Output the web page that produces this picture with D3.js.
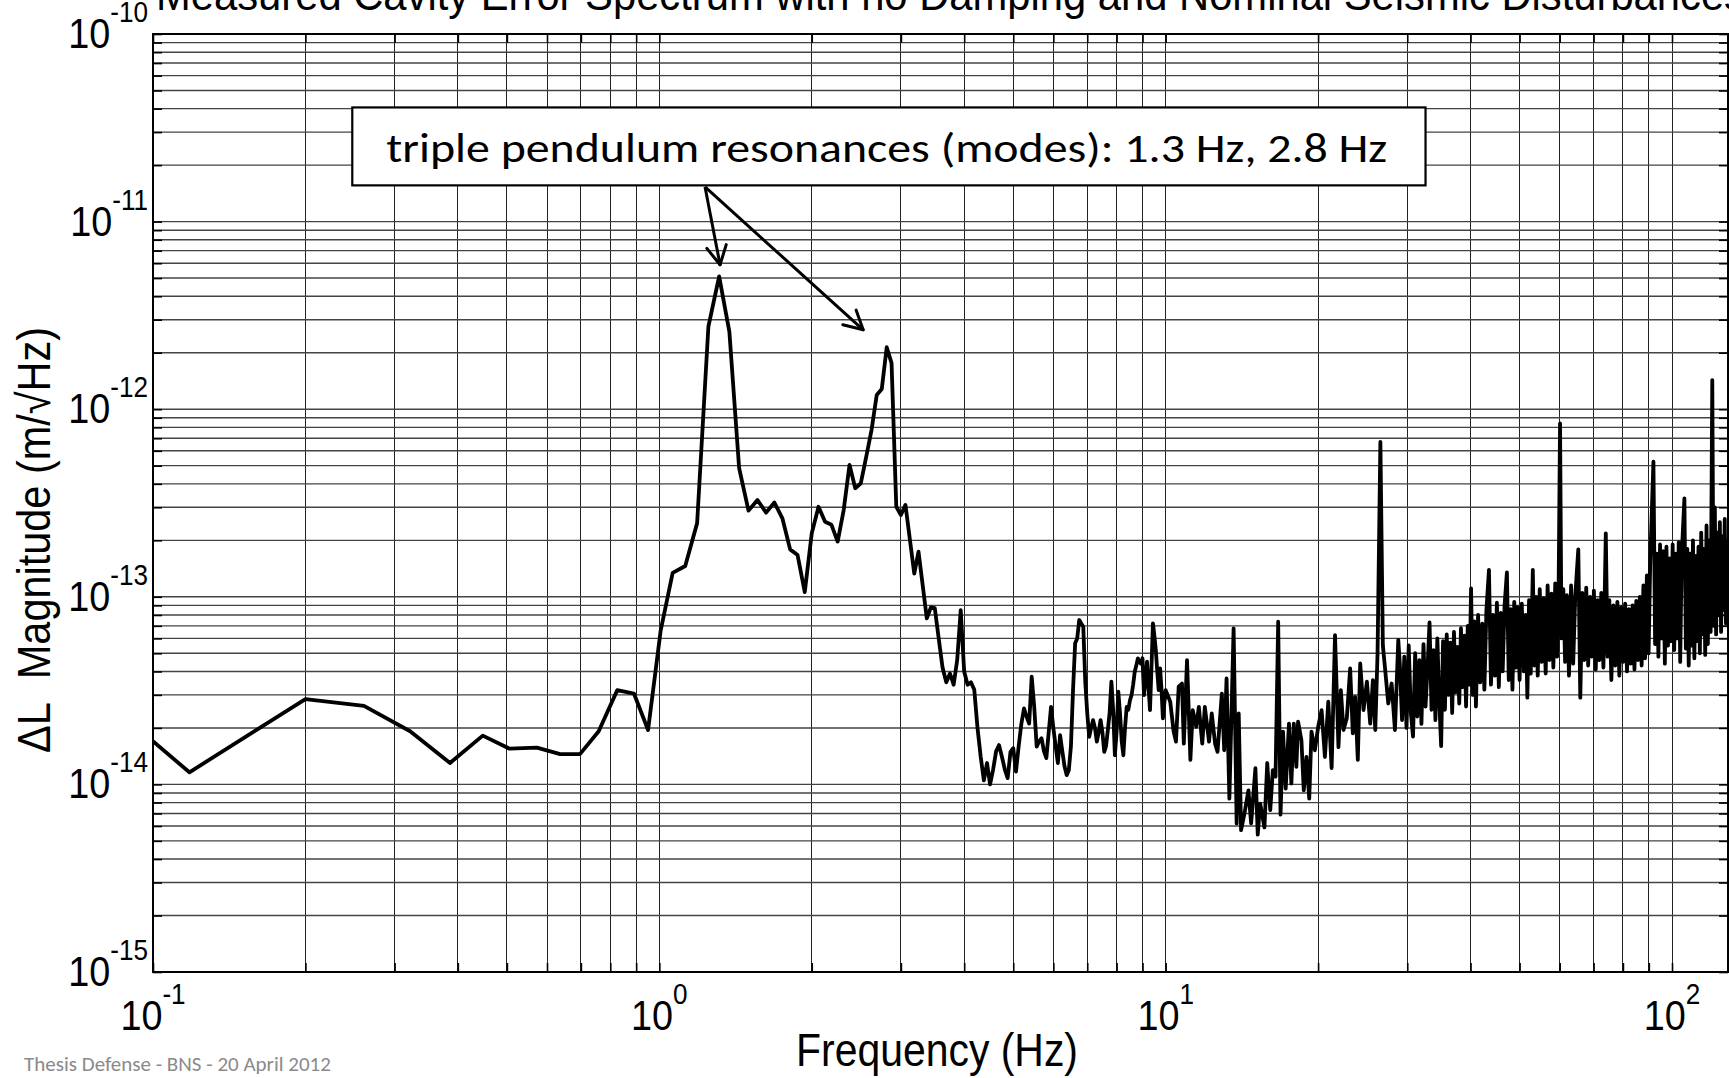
<!DOCTYPE html>
<html>
<head>
<meta charset="utf-8">
<script src="https://cdn.jsdelivr.net/npm/d3@7"></script>
<style>
  html, body { margin: 0; padding: 0; background: #fff; }
  svg { display: block; }
</style>
</head>
<body>
<div id="chart"></div>
<script>
// magnitudes are in units of 1e-14 m/sqrt(Hz)
var lowFreq = [0.06,0.118,0.2,0.261,0.322,0.386,0.448,0.506,0.573,0.637,0.697,0.759,0.826,0.891,0.95,1.006,
  1.0625,1.125,1.1875,1.25,1.3125,1.375,1.4375,1.5,1.5625,1.625,1.6875,1.75,1.8125,1.875,1.9375,2.0,
  2.0625,2.125,2.1875,2.25,2.3125,2.375,2.4375,2.5,2.5625,2.625,2.6875,2.75,2.8125,2.875,2.9375,3.0,
  3.0625,3.1875,3.25,3.375,3.4375,3.5,3.5625,3.625,3.6875,3.75,3.8125,3.875,3.9375,4.0,
  4.0625,4.125,4.1875,4.25,4.3125,4.375,4.4375,4.5,4.5625,4.625,4.6875,4.75,4.8125,4.875,4.9375,5.0,
  5.0625,5.125,5.1875,5.25,5.3125,5.375,5.4375,5.5,5.5625,5.625,5.6875,5.75,5.8125,5.875,5.9375,6.0,
  6.0625,6.125,6.1875,6.25,6.3125,6.375,6.4375,6.5,6.5625,6.625,6.6875,6.75,6.8125,6.875,6.9375,7.0,
  7.0625,7.125,7.1875,7.25,7.3125,7.375,7.4375,7.5,7.5625,7.625,7.6875,7.75,7.8125,7.875,7.9375,8.0,
  8.0625,8.125,8.1875,8.25,8.3125,8.375,8.4375,8.5,8.5625,8.625,8.6875,8.75,8.8125,8.875,8.9375,9.0,
  9.0625,9.125,9.1875,9.25,9.3125,9.375,9.4375,9.5,9.5625,9.625,9.6875,9.75,9.8125,9.875,9.9375,10.0];
var lowMag = [5.5,1.16,2.85,2.62,1.92,1.30,1.82,1.55,1.57,1.45,1.45,1.92,3.18,3.05,1.95,6.6,
  13.4,14.6,24.7,276,510,259,48.5,28.8,32.8,28.1,31.8,26.2,17.9,16.7,10.6,21.8,
  30.2,25.1,24.2,19.7,29.0,50.5,37.9,40.3,55.9,77.6,119,128,214,176,30.2,27.3,
  30.9,13.3,17.4,7.67,8.79,8.7,6.0,4.2,3.5,3.9,3.4,4.6,8.5,4.0,
  3.4,3.5,3.2,2.0,1.4,1.05,1.3,1.0,1.2,1.5,1.62,1.4,1.2,1.08,1.49,1.56,
  1.17,1.6,2.1,2.54,2.3,2.11,3.75,2.6,1.59,1.7,1.76,1.5,1.38,1.9,2.59,2.0,
  1.6,1.3,1.83,1.5,1.25,1.12,1.19,1.6,3.2,5.65,6.0,7.52,7.2,6.93,3.53,2.4,
  1.79,2.0,2.2,2.0,1.69,1.9,2.2,1.9,1.49,1.6,1.95,2.4,3.53,2.5,1.43,1.9,
  3.12,2.4,1.7,1.43,2.0,2.59,2.5,2.8,2.99,3.4,3.99,4.3,4.7,4.5,4.4,4.7,
  2.99,3.6,4.51,3.3,2.49,4.2,7.22,6.2,5.2,4.0,3.18,4.15,3.2,2.25,2.7,3.18];

var midFreq = [10.21,10.37,10.48,10.61,10.77,10.86,11.02,11.19,11.31,11.49,11.63,11.81,11.95,12.18,12.33,12.52,12.66,12.91,13.05,13.19,
  13.36,13.62,13.81,13.94,14.09,14.31,14.57,14.75,15.04,15.2,15.37,15.67,15.87,16.09,16.28,16.48,16.68,16.86,17.05,17.26,
  17.52,17.71,17.91,18.12,18.26,18.54,18.74,18.97,19.21,19.41,19.71,20.01,20.32,20.63,20.95,21.27,21.6,21.94,22.18,22.45,
  22.79,23.14,23.42,23.67,23.96,24.22,24.59,24.97,25.35,25.66,25.94,26.21,26.55,26.85,27.1,27.52,27.94,28.37,28.8];
var midMag = [2.76,1.91,1.69,3.32,3.45,1.65,4.6,1.35,2.49,2.03,2.59,1.65,2.59,1.69,2.39,1.65,1.49,3.05,1.52,3.67,
  0.84,6.79,0.62,2.39,0.57,0.7,0.93,0.62,1.22,0.54,0.79,0.59,1.3,0.73,1.19,1.1,7.37,0.69,1.91,0.95,
  2.11,1.01,2.11,1.24,2.16,1.72,0.93,1.4,0.84,1.91,1.52,2.03,2.49,1.4,2.76,1.22,6.25,1.58,3.18,1.95,
  2.25,4.15,1.87,2.93,1.35,4.41,2.49,3.53,2.11,3.6,1.95,5.0,67,5.5,4.23,2.7,3.45,1.95,5.9];

var highFreq = [29.0,29.3,29.6,29.9,30.2,30.5,30.8,31.1,31.4,31.7,32.0,32.3,32.6,32.9,33.2,33.5,33.8,34.1,34.4,34.7,
  35.0,35.3,35.6,35.9,36.2,36.5,36.8,37.1,37.4,37.7,38.0,38.3,38.6,38.9,39.2,39.5,39.8,40.1,40.4,40.7,
  41.0,41.4,41.8,42.2,42.6,43.0,43.5,43.9,44.3,44.7,45.1,45.5,45.9,46.3,46.7,47.2,47.6,48.0,48.4,48.8,
  49.2,49.6,50.0,50.5,51.0,51.4,51.8,52.2,52.6,53.1,53.5,53.9,54.3,54.8,55.3,55.8,56.3,56.8,57.3,57.8,
  58.3,58.8,59.3,59.7,60.1,60.5,61.0,61.5,62.0,62.6,63.2,63.8,64.4,65.3,65.9,66.5,67.1,67.7,68.3,68.9,
  69.5,70.1,70.7,71.3,71.9,72.5,73.2,74.0,74.6,75.2,75.9,76.6,77.3,78.0,78.7,79.4,80.1,80.8,81.5,82.2,
  82.9,83.6,84.3,85.0,85.7,86.4,87.1,87.8,88.5,89.2,89.9,90.6,91.9,92.6,93.3,94.0,94.7,95.4,96.1,96.8,
  97.5,98.2,98.9,99.6,100.3,101.0,101.7,102.4,103.1,103.8,104.5,105.8,106.5,107.2,107.9,108.6,109.3,110.0,110.7,111.4,
  112.1,112.8,113.5,114.2,114.9,115.6,116.3,117.0,117.7,118.4,119.2,120.1,120.8,121.5,122.2,122.9,123.6,124.3,125.0,125.7,
  126.4,127.1,127.8,128.5,129.2,130.0];
var highMag = [4.4,2.2,4.8,2.0,5.5,2.4,1.8,5.0,2.3,4.6,2.1,5.6,2.6,4.2,7.3,2.5,5.2,2.2,6.0,2.8,
  1.6,5.8,2.5,6.3,3.0,5.7,2.4,6.5,3.1,5.4,2.7,6.8,3.3,6.2,2.6,7.0,3.4,11.1,3.0,7.4,
  2.6,8.0,3.5,7.2,3.2,8.5,13.9,3.4,8.0,3.8,9.3,3.3,8.2,4.0,9.0,13.5,3.6,8.6,3.2,9.4,
  4.2,8.8,3.6,9.2,4.0,8.0,2.9,9.6,3.9,13.9,4.3,10.0,3.8,11.0,4.5,9.8,3.9,11.5,4.6,10.4,
  4.2,11.8,4.8,10.5,84,6.0,11.0,4.5,10.2,3.8,11.5,4.4,10.0,17.9,2.9,10.5,4.6,11.2,4.3,10.0,
  4.8,10.8,4.1,9.6,4.6,10.5,4.2,21.8,4.8,9.6,3.6,9.0,4.3,9.4,3.8,8.8,4.5,9.2,4.0,8.6,
  4.4,9.0,4.1,9.5,4.6,10.0,4.3,11.5,4.7,13.0,5.0,16.0,52.6,5.6,17.0,4.8,19.0,6.0,17.5,4.4,
  18.5,5.5,16.0,5.8,19.0,5.2,17.0,6.0,19.5,4.5,16.5,33.5,5.3,18.0,4.3,17.0,5.5,20.0,4.7,16.5,
  5.8,18.5,5.0,22.0,6.3,18.0,4.9,24.0,5.6,20.0,6.5,143,7.0,30.0,6.3,22.0,8.0,25.0,6.5,21.0,
  8.5,26.0,7.2,20.0,9.0,18.0];

var xMajor = [0.1, 1, 10, 100];
var xMajorExp = ["-1", "0", "1", "2"];
var yMajor = [1e-15, 1e-14, 1e-13, 1e-12, 1e-11, 1e-10];
var yMajorExp = ["-15", "-14", "-13", "-12", "-11", "-10"];

var titleText = "Measured Cavity Error Spectrum with no Damping and Nominal Seismic Disturbances";
var noteText = "triple pendulum resonances (modes): 1.3 Hz, 2.8 Hz";
var footerText = "Thesis Defense - BNS - 20 April 2012";

function init() {
    var W = 1729, H = 1078;
    var left = 153, right = 1728, top = 34, bottom = 972;
    var axisFont = "'Liberation Sans', Arial, Helvetica, sans-serif";
    var slideFont = "Carlito, Calibri, Lato, sans-serif";

    var svg = d3.select("#chart").append("svg")
        .attr("width", W)
        .attr("height", H);

    var x = d3.scaleLog().domain([0.1, 129]).range([left, right]);
    var y = d3.scaleLog().domain([1e-15, 1e-10]).range([bottom, top]);

    function pairs(fs, ms) {
        var out = [];
        for (var i = 0; i < Math.min(fs.length, ms.length); i++) {
            out.push({f: fs[i], v: ms[i] * 1e-14});
        }
        return out;
    }
    var data = pairs(lowFreq, lowMag).concat(pairs(midFreq, midMag), pairs(highFreq, highMag));

    svg.append("rect").attr("x", left).attr("y", top)
        .attr("width", right - left).attr("height", bottom - top)
        .attr("fill", "#fff");

    // grid
    svg.append("g").selectAll("line").data(x.ticks()).enter().append("line")
        .attr("x1", function(d) { return x(d); }).attr("x2", function(d) { return x(d); })
        .attr("y1", top).attr("y2", bottom)
        .attr("stroke", "#222").attr("stroke-width", 1).attr("shape-rendering", "crispEdges");
    svg.append("g").selectAll("line").data(y.ticks()).enter().append("line")
        .attr("y1", function(d) { return y(d); }).attr("y2", function(d) { return y(d); })
        .attr("x1", left).attr("x2", right)
        .attr("stroke", "#444").attr("stroke-width", 1.4);

    // inward ticks on all four sides
    var tk = 9;
    var axes = [
        [d3.axisBottom(x).tickValues(x.ticks()), "translate(0," + bottom + ")"],
        [d3.axisTop(x).tickValues(x.ticks()), "translate(0," + top + ")"],
        [d3.axisLeft(y).tickValues(y.ticks()), "translate(" + left + ",0)"],
        [d3.axisRight(y).tickValues(y.ticks()), "translate(" + right + ",0)"]
    ];
    axes.forEach(function(a) {
        var g = svg.append("g").attr("transform", a[1])
            .call(a[0].tickSizeInner(-tk).tickSizeOuter(0).tickFormat(""));
        g.select(".domain").remove();
        g.selectAll("line").attr("stroke", "#000").attr("stroke-width", 1.6);
    });

    // spectrum
    svg.append("clipPath").attr("id", "plotclip").append("rect")
        .attr("x", left).attr("y", top).attr("width", right - left).attr("height", bottom - top);
    var line = d3.line()
        .x(function(d) { return x(d.f); })
        .y(function(d) { return y(d.v); });
    svg.append("path")
        .datum(data)
        .attr("clip-path", "url(#plotclip)")
        .attr("fill", "none")
        .attr("stroke", "#000")
        .attr("stroke-width", 3.8)
        .attr("stroke-linejoin", "round")
        .attr("d", line);

    // frame
    svg.append("rect").attr("x", left).attr("y", top)
        .attr("width", right - left).attr("height", bottom - top)
        .attr("fill", "none").attr("stroke", "#000").attr("stroke-width", 2);

    // 10^n labels, slightly condensed like the original export
    function powLabel(px, py, exp, anchor) {
        var t = svg.append("g")
            .attr("transform", "translate(" + px + "," + py + ") scale(0.9,1)")
            .append("text")
            .attr("text-anchor", anchor)
            .style("font-family", axisFont)
            .style("font-size", "42px")
            .attr("fill", "#000");
        t.append("tspan").text("10");
        t.append("tspan").attr("dy", -26).style("font-size", "29px").text(exp);
    }
    yMajor.forEach(function(d, i) { powLabel(left - 5, y(d) + 14, yMajorExp[i], "end"); });
    xMajor.forEach(function(d, i) { powLabel(x(d), 1030, xMajorExp[i], "middle"); });

    // title (clipped by the top of the page)
    svg.append("text")
        .attr("x", 156).attr("y", 10)
        .attr("textLength", 1589).attr("lengthAdjust", "spacingAndGlyphs")
        .style("font-family", axisFont).style("font-size", "45px")
        .text(titleText);

    // axis labels
    svg.append("text")
        .attr("x", 796).attr("y", 1066)
        .attr("textLength", 282).attr("lengthAdjust", "spacingAndGlyphs")
        .style("font-family", axisFont).style("font-size", "46px")
        .text("Frequency (Hz)");
    svg.append("text")
        .attr("transform", "translate(50,540) rotate(-90)")
        .attr("text-anchor", "middle")
        .attr("textLength", 426).attr("lengthAdjust", "spacingAndGlyphs")
        .style("font-family", axisFont).style("font-size", "46px")
        .text("\u0394L\u00a0 Magnitude (m/\u221aHz)");

    // annotation box and arrows (positions in data units)
    var boxF = [0.2475, 32.6], boxV = [4.06e-11, 1.56e-11];
    var arrowFrom = [1.231, 1.53e-11];
    var arrowTo = [[1.318, 5.89e-12], [2.527, 2.65e-12]];

    svg.append("rect")
        .attr("x", x(boxF[0])).attr("y", y(boxV[0]))
        .attr("width", x(boxF[1]) - x(boxF[0])).attr("height", y(boxV[1]) - y(boxV[0]))
        .attr("fill", "#fff").attr("stroke", "#000").attr("stroke-width", 2.2);
    svg.append("text")
        .attr("x", x(boxF[0]) + 34).attr("y", y(boxV[1]) - 23)
        .attr("textLength", 1001).attr("lengthAdjust", "spacingAndGlyphs")
        .style("font-family", slideFont).style("font-size", "41px").style("font-weight", 300)
        .text(noteText);

    arrowTo.forEach(function(t) {
        var x0 = x(arrowFrom[0]), y0 = y(arrowFrom[1]), x1 = x(t[0]), y1 = y(t[1]);
        svg.append("line").attr("x1", x0).attr("y1", y0).attr("x2", x1).attr("y2", y1)
            .attr("stroke", "#000").attr("stroke-width", 3);
        var ang = Math.atan2(y1 - y0, x1 - x0) + Math.PI;
        [-0.49, 0.49].forEach(function(s) {
            svg.append("line").attr("x1", x1).attr("y1", y1)
                .attr("x2", x1 + 21 * Math.cos(ang + s)).attr("y2", y1 + 21 * Math.sin(ang + s))
                .attr("stroke", "#000").attr("stroke-width", 3).attr("stroke-linecap", "round");
        });
    });

    // slide footer
    svg.append("text")
        .attr("x", 24).attr("y", 1071)
        .style("font-family", slideFont).style("font-size", "21px")
        .attr("fill", "#8a8a8a")
        .text(footerText);
}
window.onload = init;
</script>
</body>
</html>
